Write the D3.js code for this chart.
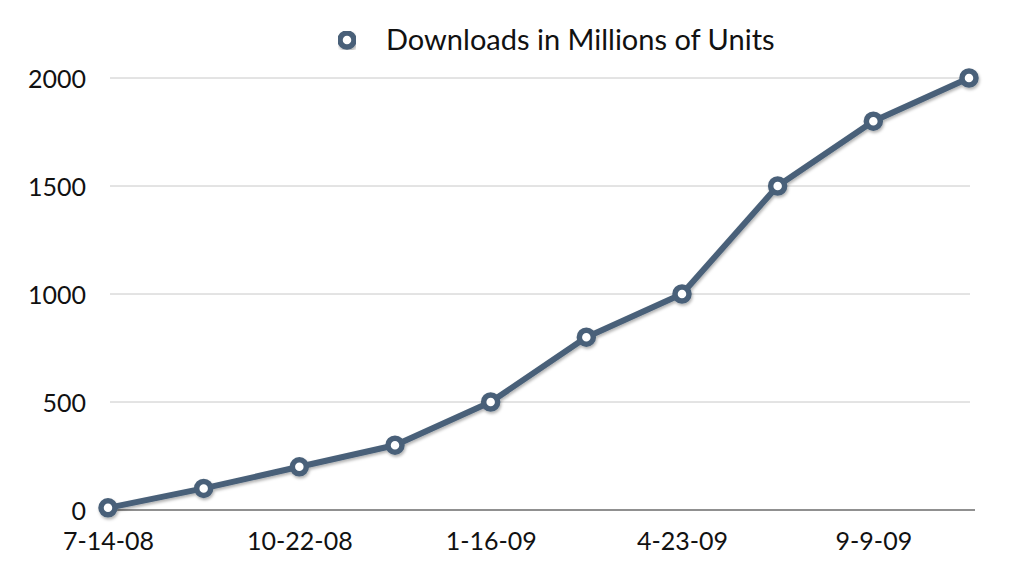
<!DOCTYPE html>
<html>
<head>
<meta charset="utf-8">
<script src="https://cdn.jsdelivr.net/npm/d3@7"></script>
<style>
  body { margin: 0; background: #fff; }
  text { font-family: "Gill Sans", Lato, "Open Sans", sans-serif; fill: #111; }
</style>
</head>
<body>
<div id="canvas"></div>
<script>
// DATA
const seriesName = "Downloads in Millions of Units";
const xLabels = ["7-14-08", "", "10-22-08", "", "1-16-09", "", "4-23-09", "", "9-9-09", ""];
const downloads = [10, 100, 200, 300, 500, 800, 1000, 1500, 1800, 2000];
const yTicks = [0, 500, 1000, 1500, 2000];

// DIMENSIONS
const width = 1024;
const height = 568;

const svg = d3.select("#canvas")
  .append("svg")
  .attr("width", width)
  .attr("height", height);

const defs = svg.append("defs");
const shadow = defs.append("filter").attr("id", "shadow")
  .attr("x", "-10%").attr("y", "-10%").attr("width", "120%").attr("height", "130%");
shadow.append("feDropShadow")
  .attr("dx", 1).attr("dy", 2).attr("stdDeviation", 1.5)
  .attr("flood-color", "#000").attr("flood-opacity", 0.3);

// SCALES
const x = d3.scalePoint()
  .domain(d3.range(downloads.length))
  .range([108, 969]);

const y = d3.scaleLinear()
  .domain([0, 2000])
  .range([510, 78]);

// GRIDLINES
svg.append("g")
  .selectAll("line")
  .data(yTicks.filter(d => d > 0))
  .join("line")
  .attr("x1", 110)
  .attr("x2", 970)
  .attr("y1", d => y(d))
  .attr("y2", d => y(d))
  .attr("stroke", "#c8c8c8")
  .attr("stroke-width", 1);

// Y AXIS LABELS
const yAxis = svg.append("g")
  .attr("transform", "translate(86,0)")
  .call(d3.axisLeft(y).tickValues(yTicks).tickSize(0).tickPadding(0).tickFormat(d3.format("d")));
yAxis.select(".domain").remove();
yAxis.selectAll("text")
  .attr("font-size", 25)
  .attr("font-family", null)
  .attr("dy", "0.36em");

// BASELINE
svg.append("line")
  .attr("x1", 100).attr("x2", 975)
  .attr("y1", y(0)).attr("y2", y(0))
  .attr("stroke", "#222").attr("stroke-width", 1.2);

// X AXIS LABELS
const xAxis = svg.append("g")
  .attr("transform", `translate(0,${y(0)})`)
  .call(d3.axisBottom(x).tickSize(0).tickFormat(i => xLabels[i]));
xAxis.select(".domain").remove();
xAxis.selectAll("text")
  .attr("font-size", 25)
  .attr("font-family", null)
  .attr("y", 40)
  .attr("dy", 0);

// LINE
const color = "#4a6179";
const line = d3.line()
  .x((d, i) => x(i))
  .y(d => y(d));

const series = svg.append("g").attr("filter", "url(#shadow)");

series.append("path")
  .datum(downloads)
  .attr("d", line)
  .attr("fill", "none")
  .attr("stroke", color)
  .attr("stroke-width", 6)
  .attr("stroke-linejoin", "round");

series.selectAll("circle")
  .data(downloads)
  .join("circle")
  .attr("cx", (d, i) => x(i))
  .attr("cy", d => y(d))
  .attr("r", 7)
  .attr("fill", "#fff")
  .attr("stroke", color)
  .attr("stroke-width", 5.5);

// LEGEND
const legend = svg.append("g").attr("transform", "translate(347,40)");
legend.append("circle")
  .attr("r", 7)
  .attr("fill", "#fff")
  .attr("stroke", color)
  .attr("stroke-width", 5.5)
  .attr("filter", "url(#shadow)");
legend.append("text")
  .attr("x", 39)
  .attr("dy", "0.35em")
  .attr("font-size", 29)
  .text(seriesName);
</script>
</body>
</html>
